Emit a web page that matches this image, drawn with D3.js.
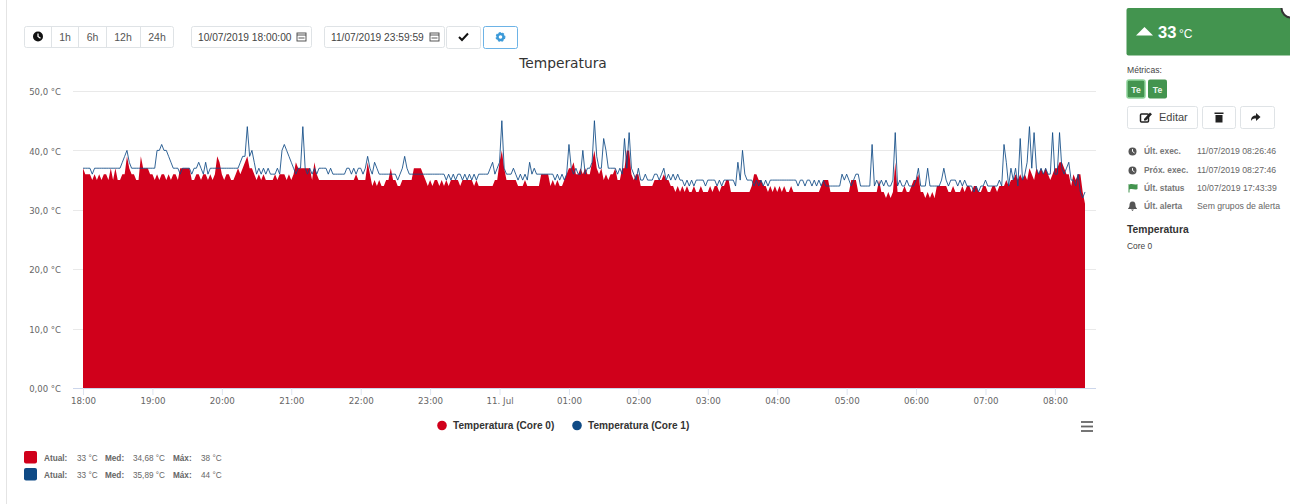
<!DOCTYPE html>
<html>
<head>
<meta charset="utf-8">
<script src="https://cdn.jsdelivr.net/npm/d3@7"></script>
<style>
  html, body { margin: 0; padding: 0; background: #fff; }
  svg { display: block; }
  text { font-family: "Liberation Sans", Arial, sans-serif; }
  .chart-text text, text.chart-text { font-family: "DejaVu Sans", sans-serif; }
</style>
</head>
<body>
<svg id="page" width="1290" height="504"></svg>
<script>
// one sample every 2 minutes, one row per hour, starting 10/07 18:00
const startTime = new Date(2019, 6, 10, 18, 0, 0);
const stepMinutes = 2;

const core0 = [
  37,36,36,36,35,36,35,36,35,36,36,35,37,35,37,35,35,36,36,39,37,36,36,35,35,39,37,37,37,36,
  36,35,36,35,36,36,35,36,35,36,36,35,37,37,37,37,37,35,35,36,36,35,36,36,35,36,35,36,39,38,
  36,35,36,36,35,35,36,37,36,37,38,39,37,37,36,35,36,35,36,35,35,35,35,36,35,36,36,36,35,36,
  35,36,38,37,37,37,37,37,37,35,38,36,35,35,35,35,35,35,35,35,35,35,35,35,35,35,35,35,36,35,
  35,35,35,38,36,34,35,34,35,34,34,35,35,37,35,35,34,34,35,35,35,35,35,37,37,37,37,36,35,34,
  35,34,35,35,34,35,34,35,34,35,35,35,35,34,35,35,35,35,35,34,35,34,34,34,34,34,34,34,35,35,
  38,40,37,35,35,35,35,35,34,34,34,35,34,34,34,34,34,34,36,36,36,36,34,35,34,35,34,34,35,36,
  37,37,38,36,36,37,36,37,36,36,38,40,37,36,37,35,36,35,36,36,37,35,35,37,37,40,40,36,35,36,
  36,34,34,34,34,34,34,35,35,35,35,36,35,35,34,34,33,34,33,34,33,34,33,33,34,33,33,34,33,33,
  33,34,33,34,34,33,34,34,35,35,33,33,33,33,33,33,33,33,33,34,36,36,35,35,34,34,33,34,33,34,
  33,34,33,34,33,33,34,33,33,33,33,33,33,33,33,33,33,33,33,34,35,35,35,33,33,33,33,33,33,33,
  33,33,35,35,35,33,33,33,33,33,33,33,33,33,35,33,33,32,33,32,33,38,33,33,33,34,33,33,34,35,
  35,36,33,33,32,33,32,33,32,34,34,34,34,34,33,33,34,33,33,33,34,33,34,34,33,34,34,33,33,34,
  34,33,33,34,34,33,34,34,34,35,34,35,35,36,35,36,35,36,35,37,36,35,37,36,37,36,37,36,35,36,
  37,37,38,38,37,36,36,34,36,35,36,36,33,31
];

const core1 = [
  37,37,37,37,36,37,37,37,37,37,37,37,37,37,37,37,37,38,39,40,38,37,37,37,37,37,37,37,37,37,
  37,37,40,40,41,40,40,39,38,37,37,37,36,37,37,37,37,36,37,37,38,37,36,38,36,37,37,37,37,37,
  37,37,37,37,37,37,37,37,38,39,39,44,39,40,38,36,37,36,37,36,37,36,36,36,37,36,40,41,40,39,
  38,37,36,37,37,44,37,36,37,36,37,36,37,37,37,37,36,37,36,36,36,36,36,36,37,37,36,37,36,37,
  37,36,37,39,37,36,38,37,36,36,36,36,36,36,36,36,35,36,37,39,37,36,36,36,36,36,36,36,36,36,
  36,36,36,36,36,36,36,35,36,35,36,35,36,36,35,36,35,36,35,36,35,36,36,36,36,36,37,38,36,37,
  38,45,37,36,36,36,37,36,35,36,35,36,35,38,36,37,36,36,36,36,36,36,36,36,35,36,35,36,35,36,
  41,37,36,37,36,36,40,36,37,37,38,45,39,37,37,42,40,37,37,37,37,36,37,36,42,37,43,37,36,35,
  37,35,35,36,35,35,35,36,36,35,36,37,35,36,35,36,35,36,35,35,34,35,34,35,34,35,35,35,35,34,
  35,35,35,35,34,35,34,35,35,35,35,35,34,38,35,40,36,35,35,35,34,35,34,35,34,35,34,35,35,35,
  35,35,35,35,35,35,35,35,35,34,35,35,34,35,35,34,35,34,35,34,35,34,34,34,34,34,34,34,36,35,
  36,35,34,35,36,36,34,34,34,34,34,41,34,35,34,35,34,35,34,34,35,43,34,35,34,34,35,34,34,34,
  35,37,34,34,34,37,34,34,34,34,34,35,37,35,34,35,35,35,34,35,34,35,34,34,34,33,34,33,34,34,
  35,34,34,34,34,34,35,34,41,38,34,37,35,37,34,42,35,36,38,44,37,43,37,36,37,36,37,36,36,43,
  36,36,43,37,36,37,38,35,35,34,36,33,32,33
];

const yTicks = [0, 10, 20, 30, 40, 50];
const yLabels = ["0,00 °C", "10,0 °C", "20,0 °C", "30,0 °C", "40,0 °C", "50,0 °C"];

const seriesNames = ["Temperatura (Core 0)", "Temperatura (Core 1)"];
const seriesColors = ["#d0001b", "#0f4a85"];
const statAtual = ["33 °C", "33 °C"];
const statMed = ["34,68 °C", "35,89 °C"];
const statMax = ["38 °C", "44 °C"];

const rangeButtons = ["1h", "6h", "12h", "24h"];
const dateFields = ["10/07/2019 18:00:00", "11/07/2019 23:59:59"];
const infoLabels = ["Últ. exec.", "Próx. exec.", "Últ. status", "Últ. alerta"];
const infoValues = ["11/07/2019 08:26:46", "11/07/2019 08:27:46", "10/07/2019 17:43:39", "Sem grupos de alerta"];

const svg = d3.select("#page");
const green = "#43944f";
const border = "#dfe3e6";

// thin page edge on the left
svg.append("line").attr("x1", 6.5).attr("x2", 6.5).attr("y1", 0).attr("y2", 504)
  .attr("stroke", "#e4e4e4");

// ---- chart ----
const times = core0.map((_, i) => d3.timeMinute.offset(startTime, i * stepMinutes));
const x = d3.scaleTime().domain([times[0], times[times.length - 1]]).range([83, 1085]);
const y = d3.scaleLinear().domain([0, 50]).range([388, 91]);

const grid = svg.append("g");
grid.selectAll("line").data(yTicks.slice(1)).enter().append("line")
  .attr("x1", 73).attr("x2", 1096)
  .attr("y1", (d) => Math.round(y(d)) + 0.5).attr("y2", (d) => Math.round(y(d)) + 0.5)
  .attr("stroke", "#e9e9e9");

svg.append("line").attr("x1", 73).attr("x2", 1096).attr("y1", 388.5).attr("y2", 388.5)
  .attr("stroke", "#ccd6eb");

const xAxis = d3.axisBottom(x)
  .tickValues(d3.timeHour.range(times[0], times[times.length - 1]))
  .tickSize(7)
  .tickPadding(3)
  .tickFormat((d) => (d.getHours() === 0 ? "11. Jul" : d3.timeFormat("%H:%M")(d)));

const xg = svg.append("g").attr("class", "chart-text").attr("transform", "translate(0,388)").call(xAxis);
xg.select(".domain").remove();
xg.selectAll("line").attr("stroke", "#dde4f0");
xg.selectAll("text").attr("fill", "#666").attr("font-size", "8.7px");

const yAxis = d3.axisLeft(y).tickValues(yTicks).tickSize(0).tickPadding(0)
  .tickFormat((d) => yLabels[yTicks.indexOf(d)]);
const yg = svg.append("g").attr("class", "chart-text").attr("transform", "translate(61,1)").call(yAxis);
yg.select(".domain").remove();
yg.selectAll("text").attr("fill", "#666").attr("font-size", "8.5px").attr("dy", "0.32em");

const area = d3.area().x((d, i) => x(times[i])).y0(y(0)).y1((d) => y(d));
const line = d3.line().x((d, i) => x(times[i])).y((d) => y(d));

svg.append("path").datum(core0).attr("d", area).attr("fill", seriesColors[0]);
svg.append("path").datum(core1).attr("d", line).attr("fill", "none")
  .attr("stroke", seriesColors[1]).attr("stroke-width", 1).attr("stroke-opacity", 0.85);

svg.append("text").attr("class", "chart-text").attr("x", 563).attr("y", 68).attr("text-anchor", "middle")
  .attr("font-size", "13.8px").attr("fill", "#333").text("Temperatura");

// series legend
const legendX = [442, 577];
seriesNames.forEach((name, i) => {
  svg.append("circle").attr("cx", legendX[i]).attr("cy", 425.5).attr("r", 4.8).attr("fill", seriesColors[i]);
  svg.append("text").attr("x", legendX[i] + 11).attr("y", 429)
    .attr("font-size", "10.1px").attr("font-weight", "bold").attr("fill", "#333").text(name);
});

// export menu
[422, 426.5, 431].forEach((by) => {
  svg.append("rect").attr("x", 1081).attr("y", by - 0.9).attr("width", 12).attr("height", 1.8).attr("fill", "#666");
});

// stats under the chart
seriesNames.forEach((_, i) => {
  const top = 451 + i * 17;
  const g = svg.append("g").attr("font-size", "8.2px").attr("fill", "#666");
  g.append("rect").attr("x", 24).attr("y", top).attr("width", 13).attr("height", 12.5).attr("rx", 2)
    .attr("fill", seriesColors[i]);
  const base = top + 9.5;
  const cells = [
    [44, "Atual:", true], [77, statAtual[i], false],
    [105, "Med:", true], [133, statMed[i], false],
    [173, "Máx:", true], [201, statMax[i], false],
  ];
  cells.forEach((c) => {
    g.append("text").attr("x", c[0]).attr("y", base).attr("font-weight", c[2] ? "bold" : "normal").text(c[1]);
  });
});

// ---- toolbar ----
function box(parent, bx, by, w, h, stroke) {
  return parent.append("rect").attr("x", bx + 0.5).attr("y", by + 0.5).attr("width", w).attr("height", h)
    .attr("rx", 2).attr("fill", "#fff").attr("stroke", stroke || border);
}

function calendarIcon(cx, cy) {
  const c = svg.append("g").attr("fill", "none").attr("stroke", "#444").attr("stroke-width", 0.9);
  c.append("rect").attr("x", cx - 4.5).attr("y", cy - 4).attr("width", 9).attr("height", 8);
  c.append("line").attr("x1", cx - 4.5).attr("x2", cx + 4.5).attr("y1", cy - 2).attr("y2", cy - 2);
  c.append("line").attr("x1", cx - 3).attr("x2", cx + 3).attr("y1", cy + 1).attr("y2", cy + 1);
}

function clockIcon(cx, cy, r, color) {
  svg.append("circle").attr("cx", cx).attr("cy", cy).attr("r", r).attr("fill", color);
  svg.append("path").attr("d", `M${cx},${cy - r * 0.6}V${cy}L${cx + r * 0.5},${cy + r * 0.35}`)
    .attr("fill", "none").attr("stroke", "#fff").attr("stroke-width", r * 0.25);
}

box(svg, 24, 26, 149, 21);
[51, 78, 106, 140].forEach((dx) => {
  svg.append("line").attr("x1", dx + 0.5).attr("x2", dx + 0.5).attr("y1", 27).attr("y2", 47).attr("stroke", border);
});
clockIcon(38, 36.5, 5, "#111");
const rangeX = [65, 92.5, 123, 157];
rangeButtons.forEach((t, i) => {
  svg.append("text").attr("x", rangeX[i]).attr("y", 40.5).attr("text-anchor", "middle")
    .attr("font-size", "10.5px").attr("fill", "#555").text(t);
});

const fieldX = [191, 324];
dateFields.forEach((t, i) => {
  box(svg, fieldX[i], 26, 120, 21);
  svg.append("text").attr("x", fieldX[i] + 7).attr("y", 40.5).attr("font-size", "10.2px").attr("fill", "#444").text(t);
  calendarIcon(fieldX[i] + 110.5, 37);
});

box(svg, 446, 26, 34, 22);
svg.append("path").attr("d", "M459,37l3,3l6,-6.5").attr("fill", "none").attr("stroke", "#111").attr("stroke-width", 2);

box(svg, 483, 26, 34, 22, "#6db3e6");
svg.append("circle").attr("cx", 500.5).attr("cy", 37).attr("r", 3).attr("fill", "none")
  .attr("stroke", "#3c9ad8").attr("stroke-width", 2.4);
svg.append("circle").attr("cx", 500.5).attr("cy", 37).attr("r", 4.3).attr("fill", "none")
  .attr("stroke", "#3c9ad8").attr("stroke-width", 1.2).attr("stroke-dasharray", "2 1.6");

// ---- right panel ----
svg.append("rect").attr("x", 1126.5).attr("y", 8).attr("width", 170).attr("height", 47.5).attr("rx", 2).attr("fill", green);
svg.append("path").attr("d", "M1136,35.5L1144.5,27L1153,35.5Z").attr("fill", "#fff");
svg.append("text").attr("x", 1158).attr("y", 37.5).attr("font-size", "16.5px").attr("font-weight", "bold").attr("fill", "#fff").text("33");
svg.append("text").attr("x", 1179).attr("y", 37.5).attr("font-size", "12px").attr("fill", "#fff").text("°C");

// close button, cut off by the top of the card
svg.append("clipPath").attr("id", "card-clip").append("rect").attr("x", 1270).attr("y", 8).attr("width", 20).attr("height", 20);
svg.append("circle").attr("cx", 1291).attr("cy", 8).attr("r", 9.5).attr("fill", "#fff").attr("stroke", "#333")
  .attr("stroke-width", 2).attr("clip-path", "url(#card-clip)");

svg.append("text").attr("x", 1127).attr("y", 72.5).attr("font-size", "8.6px").attr("fill", "#444").text("Métricas:");
svg.append("rect").attr("x", 1127).attr("y", 80).attr("width", 18).attr("height", 18).attr("rx", 2).attr("fill", green)
  .attr("stroke", "#8fd49a").attr("stroke-width", 1.5);
svg.append("rect").attr("x", 1148).attr("y", 79.5).attr("width", 19).attr("height", 19).attr("rx", 2).attr("fill", green);
[1136, 1157.5].forEach((tx) => {
  svg.append("text").attr("x", tx).attr("y", 92.5).attr("text-anchor", "middle").attr("font-size", "8.6px")
    .attr("font-weight", "bold").attr("fill", "#e8f5ea").text("Te");
});

box(svg, 1127, 106, 70, 22);
svg.append("rect").attr("x", 1140.5).attr("y", 114).attr("width", 8).attr("height", 8).attr("rx", 1)
  .attr("fill", "none").attr("stroke", "#222").attr("stroke-width", 1.5);
svg.append("path").attr("d", "M1144,119l6,-6.5l2,1.8l-6,6.2h-2Z").attr("fill", "#222");
svg.append("text").attr("x", 1159).attr("y", 121).attr("font-size", "11px").attr("fill", "#444").text("Editar");

box(svg, 1202, 106, 33, 22);
svg.append("path").attr("d", "M1214.5,112.5h9v1.5h-9ZM1215.5,115h7v7.5h-7Z").attr("fill", "#222");

box(svg, 1240, 106, 34, 22);
svg.append("path").attr("d", "M1251,121c0,-4 2,-5.5 5,-5.5v-2.5l4.5,4l-4.5,4v-2.5c-2.5,0 -4,0.5 -5,2.5Z").attr("fill", "#222");

const infoY = [151, 170, 188, 206];
infoLabels.forEach((t, i) => {
  const cy = infoY[i];
  if (i < 2) {
    clockIcon(1132.5, cy + 0.5, 4, "#555");
  } else if (i === 2) {
    svg.append("path").attr("d", `M1128.5,${cy - 4}v8.5h1v-3c3,-1.5 5,1 8,-0.5v-5c-3,1.5 -5,-1 -8,0.5Z`).attr("fill", green);
  } else {
    svg.append("path").attr("d", `M1132.5,${cy - 4.5}c-2.5,0 -3,2 -3,4c0,2 -1.5,2.5 -1.5,3.5h9c0,-1 -1.5,-1.5 -1.5,-3.5c0,-2 -0.5,-4 -3,-4ZM1131,${cy + 3.5}h3l-1.5,1.5Z`).attr("fill", "#555");
  }
  svg.append("text").attr("x", 1144).attr("y", cy + 3).attr("font-size", "8.4px").attr("font-weight", "bold")
    .attr("fill", "#777").text(t);
  svg.append("text").attr("x", 1197).attr("y", cy + 3).attr("font-size", "8.7px").attr("fill", "#666").text(infoValues[i]);
});

svg.append("text").attr("x", 1127).attr("y", 233).attr("font-size", "10.3px").attr("font-weight", "bold").attr("fill", "#333").text("Temperatura");
svg.append("text").attr("x", 1127).attr("y", 248.5).attr("font-size", "8.4px").attr("fill", "#444").text("Core 0");
</script>
</body>
</html>
